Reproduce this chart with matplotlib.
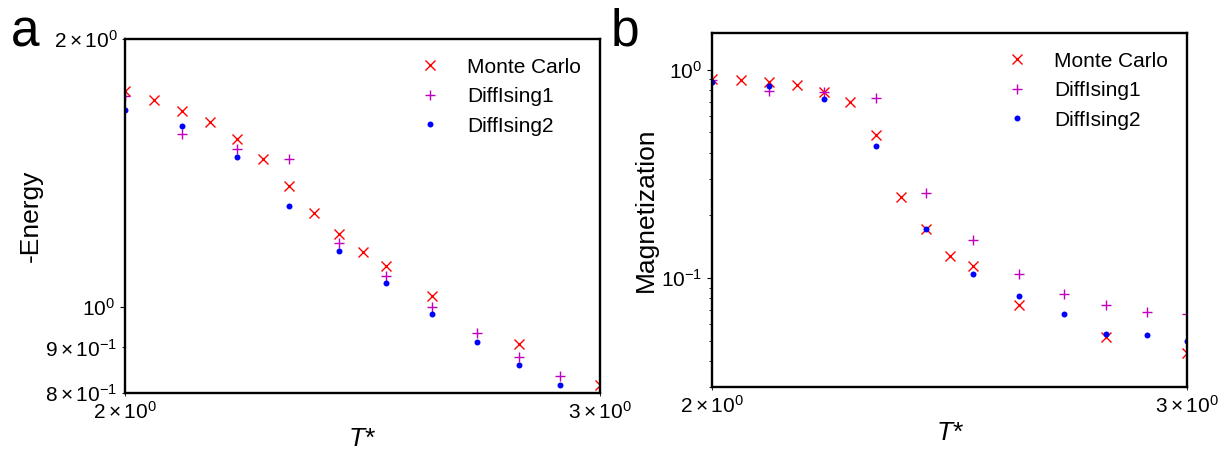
"""
Two-panel log-log comparison: Monte Carlo vs DiffIsing energy and magnetization
"""

import matplotlib

matplotlib.use("Agg")

import matplotlib.pyplot as plt
import numpy as np

plt.rcParams["font.family"] = ["Liberation Sans", "DejaVu Sans"]
plt.rcParams["mathtext.fontset"] = "custom"
plt.rcParams["mathtext.rm"] = "Liberation Sans"
plt.rcParams["mathtext.it"] = "Liberation Sans:italic"

# Temperatures (reduced units)
t_mc = [2.0, 2.05, 2.1, 2.15, 2.2, 2.25, 2.3, 2.35, 2.4, 2.45, 2.5, 2.6, 2.8, 3.0]
t_diff = [2.0, 2.1, 2.2, 2.3, 2.4, 2.5, 2.6, 2.7, 2.8, 2.9, 3.0]

# Panel a: -Energy
energy_mc = [1.746, 1.710, 1.662, 1.614, 1.545, 1.466, 1.366, 1.275, 1.208, 1.153,
             1.110, 1.029, 0.908, 0.817]
energy_d1 = [1.727, 1.564, 1.506, 1.466, 1.179, 1.084, 0.999, 0.934, 0.879, 0.835, np.nan]
energy_d2 = [1.663, 1.598, 1.473, 1.299, 1.154, 1.063, 0.982, 0.913, 0.861, 0.817, np.nan]

# Panel b: magnetization
mag_mc = [0.905, 0.892, 0.869, 0.841, 0.782, 0.697, 0.484, 0.245, 0.172, 0.127,
          0.1137, 0.0744, 0.0521, 0.0439]
mag_d1 = [0.895, 0.793, 0.784, 0.731, 0.256, 0.1527, 0.1045, 0.0841, 0.0739, 0.0687, 0.0672]
mag_d2 = [0.873, 0.831, 0.726, 0.432, 0.172, 0.1045, 0.0816, 0.0674, 0.054, 0.053, 0.050]

panels = [
    ("a", "-Energy", (0.8, 2.0), energy_mc, energy_d1, energy_d2,
     [0.1021, 0.1363, 0.3881, 0.778], (0.009, 0.897)),
    ("b", "Magnetization", (0.03, 1.5), mag_mc, mag_d1, mag_d2,
     [0.5817, 0.1495, 0.3881, 0.778], (0.499, 0.901)),
]

fig = plt.figure(figsize=(12.24, 4.55), dpi=100)

for letter, ylabel, ylim, mc, d1, d2, rect, letter_pos in panels:
    ax = fig.add_axes(rect)
    ax.plot(t_mc, mc, "x", color="r", markersize=7, linestyle="none", label="Monte Carlo")
    ax.plot(t_diff, d1, "+", color="m", markersize=7.5, linestyle="none", label="DiffIsing1")
    ax.plot(t_diff, d2, "o", color="b", markersize=4.3, markeredgewidth=0,
            linestyle="none", label="DiffIsing2")

    ax.set_xscale("log")
    ax.set_yscale("log")
    ax.set_xlim(2.0, 3.0)
    ax.set_ylim(*ylim)

    ax.set_xlabel("$T$*", fontsize=19, labelpad=3)
    ax.set_ylabel(ylabel, fontsize=19, labelpad=2)
    ax.tick_params(which="both", labelsize=15)
    for spine in ax.spines.values():
        spine.set_linewidth(1.7)

    ax.legend(loc="upper right", frameon=False, fontsize=15)

    fig.text(letter_pos[0], letter_pos[1], letter, fontsize=37, va="baseline")

fig.savefig("out.png", dpi=100, facecolor="white")
plt.close(fig)
